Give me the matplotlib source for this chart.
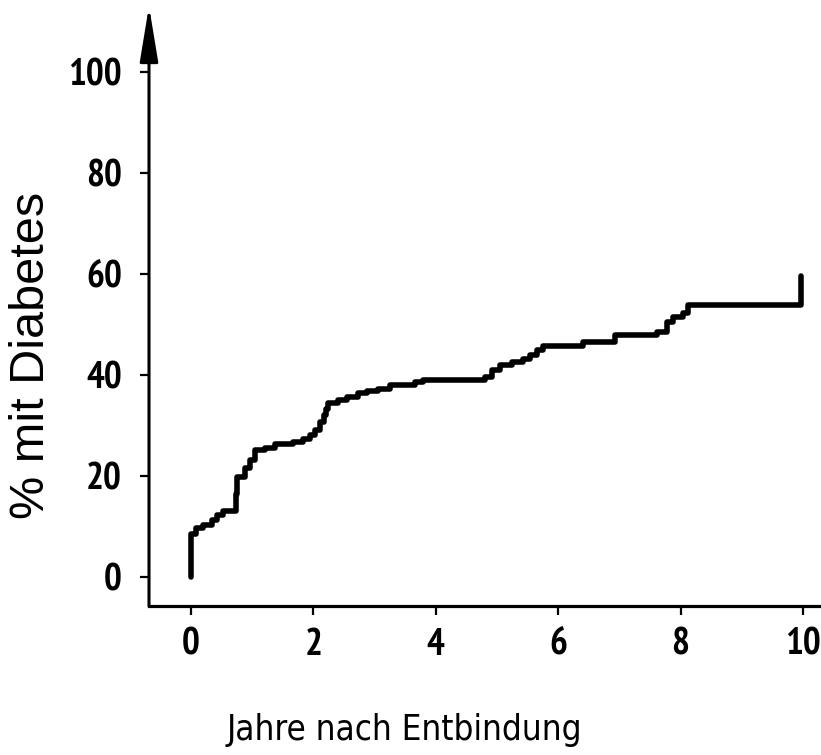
import matplotlib
matplotlib.use("Agg")
import matplotlib.pyplot as plt
from matplotlib.patches import FancyArrowPatch

# Data
years = [0.00, 0.00, 0.09, 0.20, 0.34, 0.42, 0.53, 0.73, 0.76, 0.88, 0.96, 1.05,
         1.21, 1.37, 1.67, 1.83, 1.94, 2.03, 2.11, 2.17, 2.21, 2.24, 2.40, 2.55,
         2.73, 2.88, 3.05, 3.25, 3.66, 3.79, 4.80, 4.92, 5.05, 5.24, 5.42, 5.54,
         5.65, 5.75, 6.40, 6.93, 7.61, 7.78, 7.88, 8.04, 8.12, 9.97]
pct = [0.0, 8.5, 9.7, 10.3, 11.3, 12.3, 13.1, 16.5, 19.8, 21.6, 23.2, 25.1,
       25.5, 26.3, 26.7, 27.3, 28.1, 29.1, 30.7, 32.0, 33.3, 34.5, 35.0, 35.7,
       36.4, 36.9, 37.3, 38.0, 38.6, 39.0, 39.6, 41.0, 42.0, 42.6, 43.2, 44.0,
       45.0, 45.8, 46.5, 47.9, 48.5, 50.5, 51.5, 52.2, 53.8, 59.6]
x_ticks = [0, 2, 4, 6, 8, 10]
y_ticks = [0, 20, 40, 60, 80, 100]
x_label = "Jahre nach Entbindung"
y_label = "% mit Diabetes"

W, H = 821, 755
fig = plt.figure(figsize=(W / 100, H / 100), dpi=100)
left, bottom, top = 149, 606, 6
ax = fig.add_axes([left / W, (H - bottom) / H, 1 - left / W, (bottom - top) / H])

ax.plot(years, pct, drawstyle="steps-post", color="black", lw=4.0,
        solid_capstyle="round", solid_joinstyle="round", clip_on=False)

ax.set_xlim(-0.686, 10.294)
ax.set_ylim((577 - bottom) / 5.05, (577 - top) / 5.05)

for s in ["top", "right", "left"]:
    ax.spines[s].set_visible(False)
ax.spines["bottom"].set_linewidth(2.3)

# y axis with arrow head
arrow = FancyArrowPatch((0, 0), (0, 1), transform=ax.transAxes,
                        arrowstyle="-|>,head_length=1.7,head_width=0.28",
                        mutation_scale=20, color="black", lw=2.2, clip_on=False,
                        shrinkA=0, shrinkB=0)
ax.add_patch(arrow)

narrow = ["PT Sans Narrow", "Fira Sans Extra Condensed", "Liberation Sans", "DejaVu Sans"]
tick_font = dict(family=narrow, weight="bold", size=27)
ax.set_xticks(x_ticks)
ax.set_yticks(y_ticks)
ax.set_xticklabels([str(v) for v in x_ticks], fontdict=tick_font)
ax.set_yticklabels([str(v) for v in y_ticks], fontdict=tick_font)
ax.tick_params(axis="both", direction="out", length=6.5, width=1.6, color="black")
ax.tick_params(axis="y", pad=13)
ax.tick_params(axis="x", pad=9)

ax.set_xlabel(x_label, family=["DejaVu Sans"], fontstretch="condensed", size=25)
ax.set_ylabel(y_label, family=["Liberation Sans", "DejaVu Sans"], size=35)
ax.xaxis.set_label_coords((404 - left) / (W - left), (bottom - 730) / (bottom - top))
ax.yaxis.set_label_coords((32 - left) / (W - left), (bottom - 355) / (bottom - top))
ax.xaxis.label.set_va("center")
ax.yaxis.label.set_va("center")

fig.savefig("out.png", dpi=100)
